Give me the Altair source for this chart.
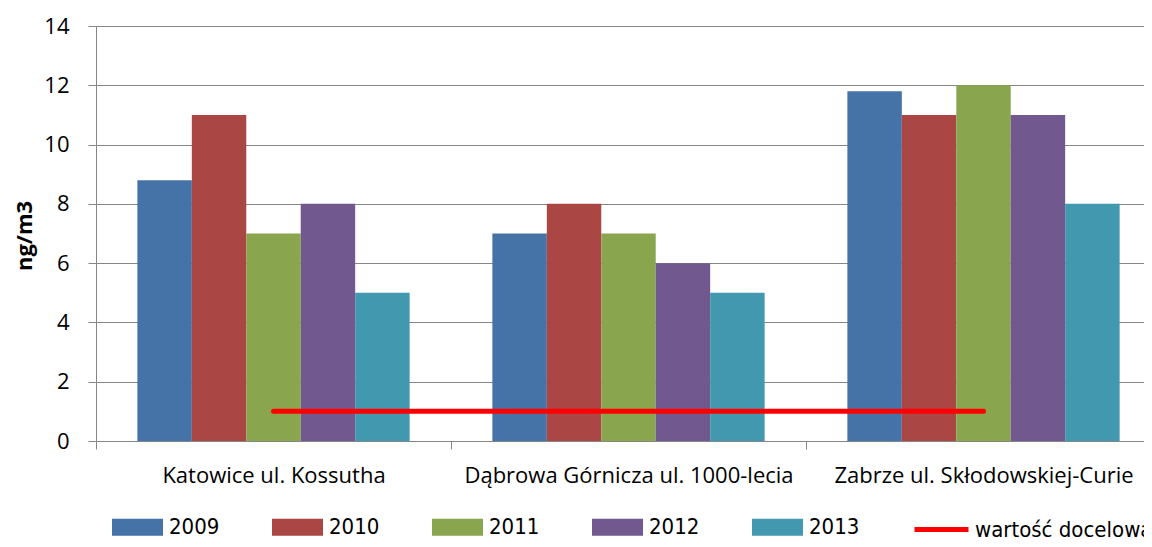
import altair as alt
import pandas as pd

categories = ["Katowice ul. Kossutha", "Dąbrowa Górnicza ul. 1000-lecia", "Zabrze ul. Skłodowskiej-Curie"]
years = ["2009", "2010", "2011", "2012", "2013"]
v2009 = [8.8, 7.0, 11.8]
v2010 = [11.0, 8.0, 11.0]
v2011 = [7.0, 7.0, 12.0]
v2012 = [8.0, 6.0, 11.0]
v2013 = [5.0, 5.0, 8.0]
target_label = "wartość docelowa"
target_values = [1.0, 1.0, 1.0]
bar_colors = ["#4572A7", "#AA4643", "#89A54E", "#71588F", "#4198AF"]
line_color = "#FF0000"
y_ticks = [0, 2, 4, 6, 8, 10, 12, 14]

series = [v2009, v2010, v2011, v2012, v2013]
rows = []
for yr, vals in zip(years, series):
    for cat, v in zip(categories, vals):
        rows.append({"category": cat, "year": yr, "value": v})
bars_df = pd.DataFrame(rows)
line_df = pd.DataFrame({"category": categories, "value": target_values, "series": [target_label] * 3})

GRAY = "#868686"
AXFONT = "Open Sans"
LEGFONT = "DejaVu Sans Condensed, Liberation Sans, sans-serif"

x_enc = alt.X(
    "category:N", sort=categories,
    scale=alt.Scale(range=[0, 1065], paddingInner=0, paddingOuter=0),
    axis=alt.Axis(title=None, tickBand="extent", tickExtra=False, tickSize=8, tickColor=GRAY,
                  domain=False,
                  labelFont=AXFONT, labelFontSize=22, labelColor="black", labelPadding=16,
                  labelLimit=400, labelAngle=0, grid=False),
)
y_enc = alt.Y(
    "value:Q", scale=alt.Scale(domain=[0, 14], nice=False),
    axis=alt.Axis(values=y_ticks, title="ng/m3", titleFont=AXFONT, titleFontSize=22,
                  titleFontWeight="bold", titleColor="black", titleX=-60, titleY=209.5,
                  labelFont=AXFONT, labelFontSize=22, labelColor="black", labelPadding=19,
                  tickSize=8, tickColor=GRAY, domainColor=GRAY, gridColor=GRAY, grid=True),
)

bars = alt.Chart(bars_df).mark_bar(stroke=None).encode(
    x=x_enc,
    xOffset=alt.XOffset("year:N", sort=years, scale=alt.Scale(paddingInner=0, paddingOuter=0.76)),
    y=y_enc,
    color=alt.Color("year:N", sort=years, scale=alt.Scale(domain=years, range=bar_colors),
                    legend=alt.Legend(title=None, orient="none", legendX=16, legendY=475.5,
                                      direction="horizontal", columns=5, gridAlign="all",
                                      columnPadding=52, labelFont=LEGFONT, labelFontSize=22,
                                      labelColor="black", labelOffset=6,
                                      symbolType="M-1,-0.333H1V0.333H-1Z", symbolSize=2601,
                                      symbolStrokeWidth=0, symbolOpacity=1)),
)

line = alt.Chart(line_df).mark_line(strokeWidth=5, strokeCap="round").encode(
    x=alt.X("category:N", sort=categories),
    y=alt.Y("value:Q"),
    stroke=alt.Stroke("series:N", scale=alt.Scale(domain=[target_label], range=[line_color]),
                      legend=alt.Legend(title=None, orient="none", legendX=816, legendY=474,
                                        direction="horizontal", labelFont=LEGFONT, labelFontSize=22,
                                        labelColor="black", labelOffset=4, labelLimit=600,
                                        symbolType="stroke", symbolSize=2916, symbolStrokeWidth=5)),
)

chart = alt.layer(bars, line).resolve_scale(color="independent").properties(
    width=1048, height=415,
    autosize=alt.AutoSizeParams(type="none"),
    padding={"left": 88, "top": 18, "right": 0, "bottom": 98},
).configure_view(stroke=None).configure(background="white")

chart.save("out.html", embed_options={"renderer": "svg", "actions": False})
